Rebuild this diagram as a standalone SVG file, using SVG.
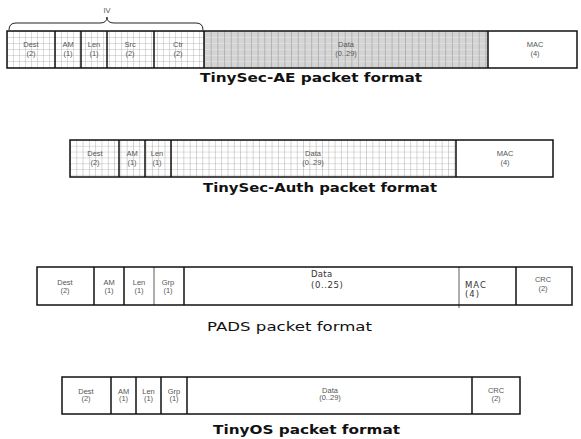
<svg xmlns="http://www.w3.org/2000/svg" width="581" height="439" viewBox="0 0 581 439">
<style>
.box{fill:none;stroke:#111;stroke-width:1.5}
.div{stroke:#111;stroke-width:1.5}
.divg{stroke:#777;stroke-width:1.2}
.lbl{font-family:"Liberation Sans",Arial,sans-serif;font-size:7.5px;fill:#555;text-anchor:middle}
.cap{font-family:"DejaVu Sans",Verdana,sans-serif;font-size:12px;font-weight:bold;fill:#111;text-anchor:middle}
.capr{font-family:"DejaVu Sans",Verdana,sans-serif;font-size:12px;fill:#111;text-anchor:middle}
.big{font-family:"DejaVu Sans",Verdana,sans-serif;font-size:8.5px;fill:#333}
</style>
<defs>
<pattern id="g1" patternUnits="userSpaceOnUse" x="7" y="31" width="6" height="6">
<rect width="6" height="6" fill="#fff"/>
<path d="M0,0V6M0,0H6" stroke="#999" stroke-width="0.7"/>
</pattern>
<pattern id="g1d" patternUnits="userSpaceOnUse" x="204" y="31" width="6.7" height="6">
<rect width="6.7" height="6" fill="#d4d4d4"/>
<path d="M0,0H6.7" stroke="#f0f0f0" stroke-width="0.8"/>
<path d="M0,0V6" stroke="#7a7a7a" stroke-width="0.8"/>
</pattern>
<pattern id="g2" patternUnits="userSpaceOnUse" x="70" y="140" width="6.3" height="5.8">
<rect width="6.3" height="5.8" fill="#fff"/>
<path d="M0,0H6.3" stroke="#aaa" stroke-width="0.7"/>
<path d="M0,0V5.8" stroke="#888" stroke-width="0.7"/>
</pattern>
</defs>

<g id="iv-brace">
<path d="M9,30 Q9,23 16,23 L100,23 Q107,23 107,17 Q107,23 114,23 L196,23 Q203,23 203,30" fill="none" stroke="#222" stroke-width="1"/>
<text class="lbl" x="107" y="13">IV</text>
</g>

<g id="tinysec-ae">
<rect x="7" y="31" width="197" height="37" fill="url(#g1)"/>
<rect x="204" y="31" width="284" height="37" fill="url(#g1d)"/>
<rect x="488" y="31" width="89" height="37" fill="#fff"/>
<g id="ae-dest"><text class="lbl" x="31" y="46.5">Dest</text><text class="lbl" x="31" y="55.5">(2)</text></g>
<g id="ae-am"><line class="div" x1="55" y1="31" x2="55" y2="68"/><text class="lbl" x="68" y="46.5">AM</text><text class="lbl" x="68" y="55.5">(1)</text></g>
<g id="ae-len"><line class="div" x1="81" y1="31" x2="81" y2="68"/><text class="lbl" x="94" y="46.5">Len</text><text class="lbl" x="94" y="55.5">(1)</text></g>
<g id="ae-src"><line class="div" x1="107" y1="31" x2="107" y2="68"/><text class="lbl" x="130" y="46.5">Src</text><text class="lbl" x="130" y="55.5">(2)</text></g>
<g id="ae-ctr"><line class="div" x1="154" y1="31" x2="154" y2="68"/><text class="lbl" x="178" y="46.5">Ctr</text><text class="lbl" x="178" y="55.5">(2)</text></g>
<g id="ae-data"><line class="div" x1="204" y1="31" x2="204" y2="68"/><text class="lbl" x="346" y="46.5">Data</text><text class="lbl" x="346" y="55.5">(0..29)</text></g>
<g id="ae-mac"><line class="div" x1="488" y1="31" x2="488" y2="68"/><text class="lbl" x="535" y="46.5">MAC</text><text class="lbl" x="535" y="55.5">(4)</text></g>
<rect class="box" x="7" y="31" width="570" height="37"/>
<text class="cap" x="311" y="82" textLength="222" lengthAdjust="spacingAndGlyphs">TinySec-AE packet format</text>
</g>

<g id="tinysec-auth">
<rect x="70" y="140" width="386" height="37" fill="url(#g2)"/>
<rect x="456" y="140" width="97" height="37" fill="#fff"/>
<g id="auth-dest"><text class="lbl" x="95" y="155.5">Dest</text><text class="lbl" x="95" y="164.5">(2)</text></g>
<g id="auth-am"><line class="div" x1="119" y1="140" x2="119" y2="177"/><text class="lbl" x="132" y="155.5">AM</text><text class="lbl" x="132" y="164.5">(1)</text></g>
<g id="auth-len"><line class="div" x1="145" y1="140" x2="145" y2="177"/><text class="lbl" x="157" y="155.5">Len</text><text class="lbl" x="157" y="164.5">(1)</text></g>
<g id="auth-data"><line class="div" x1="171" y1="140" x2="171" y2="177"/><text class="lbl" x="313" y="155.5">Data</text><text class="lbl" x="313" y="164.5">(0..29)</text></g>
<g id="auth-mac"><line class="div" x1="456" y1="140" x2="456" y2="177"/><text class="lbl" x="505" y="155.5">MAC</text><text class="lbl" x="505" y="164.5">(4)</text></g>
<rect class="box" x="70" y="140" width="483" height="37"/>
<text class="cap" x="320" y="192" textLength="234" lengthAdjust="spacingAndGlyphs">TinySec-Auth packet format</text>
</g>

<g id="pads">
<rect x="37" y="267" width="535" height="38" fill="#fff"/>
<g id="pads-dest"><text class="lbl" x="65" y="284.5">Dest</text><text class="lbl" x="65" y="293">(2)</text></g>
<g id="pads-am"><line class="div" x1="94" y1="267" x2="94" y2="305"/><text class="lbl" x="109" y="284.5">AM</text><text class="lbl" x="109" y="293">(1)</text></g>
<g id="pads-len"><line class="div" x1="124" y1="267" x2="124" y2="305"/><text class="lbl" x="139" y="284.5">Len</text><text class="lbl" x="139" y="293">(1)</text></g>
<g id="pads-grp"><line class="divg" x1="154" y1="267" x2="154" y2="305"/><text class="lbl" x="168" y="284.5">Grp</text><text class="lbl" x="168" y="293">(1)</text></g>
<g id="pads-data"><line class="div" x1="184" y1="267" x2="184" y2="305"/><text class="big" x="311" y="277" letter-spacing="0.3">Data</text><text class="big" x="311" y="288" letter-spacing="0.6">(0..25)</text></g>
<g id="pads-mac"><line class="divg" x1="459" y1="267" x2="459" y2="308"/><text class="big" x="465" y="288" letter-spacing="1">MAC</text><text class="big" x="465" y="297" letter-spacing="1">(4)</text></g>
<g id="pads-crc"><line class="div" x1="516" y1="267" x2="516" y2="305"/><text class="lbl" x="543" y="281.5">CRC</text><text class="lbl" x="543" y="290.5">(2)</text></g>
<rect class="box" x="37" y="267" width="535" height="38"/>
<text class="capr" x="289.5" y="331" textLength="165" lengthAdjust="spacingAndGlyphs">PADS packet format</text>
</g>

<g id="tinyos">
<rect x="62" y="377" width="458" height="37" fill="#fff"/>
<g id="os-dest"><text class="lbl" x="86" y="393.5">Dest</text><text class="lbl" x="86" y="401">(2)</text></g>
<g id="os-am"><line class="div" x1="111" y1="377" x2="111" y2="414"/><text class="lbl" x="123.5" y="393.5">AM</text><text class="lbl" x="123.5" y="401">(1)</text></g>
<g id="os-len"><line class="div" x1="136" y1="377" x2="136" y2="414"/><text class="lbl" x="148.5" y="393.5">Len</text><text class="lbl" x="148.5" y="401">(1)</text></g>
<g id="os-grp"><line class="div" x1="161" y1="377" x2="161" y2="414"/><text class="lbl" x="174" y="393.5">Grp</text><text class="lbl" x="174" y="401">(1)</text></g>
<g id="os-data"><line class="div" x1="187" y1="377" x2="187" y2="414"/><text class="lbl" x="330" y="392.5">Data</text><text class="lbl" x="330" y="400">(0..29)</text></g>
<g id="os-crc"><line class="div" x1="472" y1="377" x2="472" y2="414"/><text class="lbl" x="496" y="392.5">CRC</text><text class="lbl" x="496" y="400.5">(2)</text></g>
<rect class="box" x="62" y="377" width="458" height="37"/>
<text class="cap" x="306.5" y="434" textLength="187" lengthAdjust="spacingAndGlyphs">TinyOS packet format</text>
</g>
</svg>
